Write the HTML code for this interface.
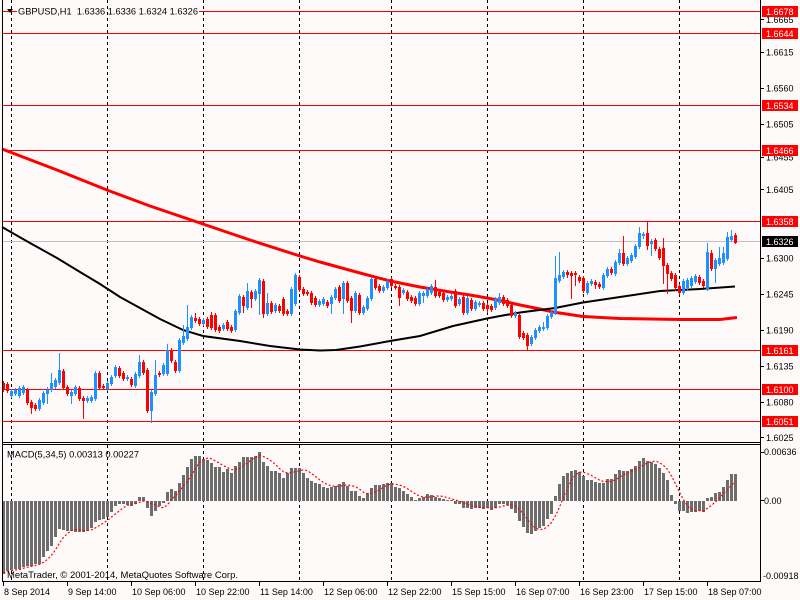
<!DOCTYPE html>
<html><head><meta charset="utf-8"><style>
html,body{margin:0;padding:0;background:#fffafa;overflow:hidden;}
svg{display:block;font-family:"Liberation Sans",sans-serif;}
text{white-space:pre;}
</style></head><body>
<svg id="s" width="800" height="600" xmlns="http://www.w3.org/2000/svg">
<rect width="800" height="600" fill="#fffafa"/>
<g stroke="#000" stroke-width="1" stroke-dasharray="3,3">
<line x1="11.5" y1="0" x2="11.5" y2="442"/><line x1="107.5" y1="0" x2="107.5" y2="442"/><line x1="203.5" y1="0" x2="203.5" y2="442"/><line x1="299.5" y1="0" x2="299.5" y2="442"/><line x1="391.5" y1="0" x2="391.5" y2="442"/><line x1="487.5" y1="0" x2="487.5" y2="442"/><line x1="583.5" y1="0" x2="583.5" y2="442"/><line x1="679.5" y1="0" x2="679.5" y2="442"/>
<line x1="11.5" y1="445" x2="11.5" y2="581"/><line x1="107.5" y1="445" x2="107.5" y2="581"/><line x1="203.5" y1="445" x2="203.5" y2="581"/><line x1="299.5" y1="445" x2="299.5" y2="581"/><line x1="391.5" y1="445" x2="391.5" y2="581"/><line x1="487.5" y1="445" x2="487.5" y2="581"/><line x1="583.5" y1="445" x2="583.5" y2="581"/><line x1="679.5" y1="445" x2="679.5" y2="581"/>
</g>
<g stroke="#ff0000" stroke-width="1">
<line x1="2" y1="11.5" x2="17" y2="11.5"/><line x1="199" y1="11.5" x2="760" y2="11.5"/>
<line x1="2" y1="33.5" x2="760" y2="33.5"/>
<line x1="2" y1="105.5" x2="760" y2="105.5"/>
<line x1="2" y1="150.5" x2="760" y2="150.5"/>
<line x1="2" y1="221.5" x2="760" y2="221.5"/>
<line x1="2" y1="350.5" x2="760" y2="350.5"/>
<line x1="2" y1="389.5" x2="760" y2="389.5"/>
<line x1="2" y1="421.5" x2="760" y2="421.5"/>
</g>
<line x1="2" y1="241.5" x2="760" y2="241.5" stroke="#c0c0c0" stroke-width="1"/>
<polyline fill="none" stroke="#ff0000" stroke-width="3" points="2,149 57,170 107,190 150,206 200,223 250,240 300,256 320,262 360,273 390,281 420,287 450,292 470,295 487,298 500,300.5 520,305 540,309 553,312 583,316.5 620,318.5 680,319.5 720,319.5 737,317.5"/>
<polyline fill="none" stroke="#000" stroke-width="2" points="2,227 30,243 57,258 80,272 100,284 120,297 140,308 160,319 183,330 203,336 240,341 270,346 300,349.5 320,350.5 336,350 360,346.5 390,341 420,336 453,326 487,318.5 500,316 520,312.5 555,308 583,302.5 620,297 660,291 700,289 735,286.5"/>
<g id="candles"></g>
<g id="hist"></g>
<g stroke="#000" stroke-width="1">
<line x1="2.5" y1="0" x2="2.5" y2="582"/>
<line x1="760.5" y1="0" x2="760.5" y2="582"/>
<line x1="2" y1="442.5" x2="761" y2="442.5"/>
<line x1="2" y1="444.5" x2="761" y2="444.5"/>
<line x1="2" y1="581.5" x2="761" y2="581.5"/>
<line x1="760" y1="19.5" x2="764" y2="19.5"/><line x1="760" y1="52.5" x2="764" y2="52.5"/><line x1="760" y1="88.5" x2="764" y2="88.5"/><line x1="760" y1="124.5" x2="764" y2="124.5"/><line x1="760" y1="157.5" x2="764" y2="157.5"/><line x1="760" y1="189.5" x2="764" y2="189.5"/><line x1="760" y1="258.5" x2="764" y2="258.5"/><line x1="760" y1="294.5" x2="764" y2="294.5"/><line x1="760" y1="330.5" x2="764" y2="330.5"/><line x1="760" y1="366.5" x2="764" y2="366.5"/><line x1="760" y1="402.5" x2="764" y2="402.5"/><line x1="760" y1="437.5" x2="764" y2="437.5"/>
<line x1="760" y1="452.5" x2="764" y2="452.5"/><line x1="760" y1="500.5" x2="764" y2="500.5"/>
<line x1="3.5" y1="582" x2="3.5" y2="586"/><line x1="67.5" y1="582" x2="67.5" y2="586"/><line x1="131.5" y1="582" x2="131.5" y2="586"/><line x1="195.5" y1="582" x2="195.5" y2="586"/><line x1="259.5" y1="582" x2="259.5" y2="586"/><line x1="323.5" y1="582" x2="323.5" y2="586"/><line x1="387.5" y1="582" x2="387.5" y2="586"/><line x1="451.5" y1="582" x2="451.5" y2="586"/><line x1="515.5" y1="582" x2="515.5" y2="586"/><line x1="579.5" y1="582" x2="579.5" y2="586"/><line x1="643.5" y1="582" x2="643.5" y2="586"/><line x1="707.5" y1="582" x2="707.5" y2="586"/>
</g>
<g font-size="9" fill="#000">
<text x="766" y="23">1.6665</text>
<text x="766" y="55.5">1.6615</text>
<text x="766" y="91.5">1.6560</text>
<text x="766" y="127.5">1.6505</text>
<text x="766" y="160.5">1.6455</text>
<text x="766" y="193">1.6405</text>
<text x="766" y="261.5">1.6300</text>
<text x="766" y="297.5">1.6245</text>
<text x="766" y="333.5">1.6190</text>
<text x="766" y="369.5">1.6135</text>
<text x="766" y="405.5">1.6080</text>
<text x="766" y="441">1.6025</text>
<text x="764" y="455">0.00636</text>
<text x="764" y="504">0.00</text>
<text x="763" y="579">-0.00918</text>
<text x="4" y="595">8 Sep 2014</text>
<text x="68" y="595">9 Sep 14:00</text>
<text x="132" y="595">10 Sep 06:00</text>
<text x="196" y="595">10 Sep 22:00</text>
<text x="260" y="595">11 Sep 14:00</text>
<text x="324" y="595">12 Sep 06:00</text>
<text x="388" y="595">12 Sep 22:00</text>
<text x="452" y="595">15 Sep 15:00</text>
<text x="516" y="595">16 Sep 07:00</text>
<text x="580" y="595">16 Sep 23:00</text>
<text x="644" y="595">17 Sep 15:00</text>
<text x="708" y="595">18 Sep 07:00</text>
</g>
<g>
<rect x="762" y="6" width="36" height="11" fill="#ff0000"/>
<rect x="762" y="28" width="36" height="11" fill="#ff0000"/>
<rect x="762" y="100" width="36" height="11" fill="#ff0000"/>
<rect x="762" y="145" width="36" height="11" fill="#ff0000"/>
<rect x="762" y="216" width="36" height="11" fill="#ff0000"/>
<rect x="762" y="236" width="36" height="11" fill="#000"/>
<rect x="762" y="345" width="36" height="11" fill="#ff0000"/>
<rect x="762" y="384" width="36" height="11" fill="#ff0000"/>
<rect x="762" y="416" width="36" height="11" fill="#ff0000"/>
</g>
<g font-size="9" fill="#fff">
<text x="766" y="14.8">1.6678</text>
<text x="766" y="36.8">1.6644</text>
<text x="766" y="108.8">1.6534</text>
<text x="766" y="153.8">1.6466</text>
<text x="766" y="224.8">1.6358</text>
<text x="766" y="244.8">1.6326</text>
<text x="766" y="353.8">1.6161</text>
<text x="766" y="392.8">1.6100</text>
<text x="766" y="424.8">1.6051</text>
</g>
<polygon points="7,9 13,9 10,13" fill="#000"/>
<text x="18" y="14.5" font-size="9.5" textLength="180" lengthAdjust="spacingAndGlyphs">GBPUSD,H1  1.6336 1.6336 1.6324 1.6326</text>
<g id="sig"></g>
<text x="7" y="457.5" font-size="9.5" textLength="132" lengthAdjust="spacingAndGlyphs">MACD(5,34,5) 0.00313 0.00227</text>
<text x="7" y="578" font-size="9.5" textLength="231" lengthAdjust="spacingAndGlyphs">MetaTrader, © 2001-2014, MetaQuotes Software Corp.</text>
</svg>
<script>
(function(){
var NS="http://www.w3.org/2000/svg";
function el(t,a,p){var e=document.createElementNS(NS,t);for(var k in a)e.setAttribute(k,a[k]);p.appendChild(e);return e;}
var D="r383,389,381,391 r384,390,382,392 b391,395,389,397 b390,393,388,395 b388,395,386,397 b387,392,385,394 r390,402,388,404 r402,407,400,413 r405,408,403,410 b400,408,398,410 "+
"b393,402,391,404 b390,393,387,403 b383,389,373,391 b380,386,378,388 b370,382,353,384 r371,387,369,389 r387,393,385,395 b392,395,390,403 b387,393,385,395 r388,398,386,400 "+
"r398,400,396,418 b398,400,396,402 b397,400,395,402 b373,398,371,400 r373,387,371,389 r386,387,384,389 b383,388,381,390 b377,383,375,385 b367,375,365,377 r368,375,366,377 "+
"r373,378,371,380 b377,378,375,380 r379,384,377,386 b374,385,372,387 b362,375,355,377 r362,372,360,374 r370,410,368,412 b392,410,390,422 b375,393,360,395 r373,374,371,376 "+
"b365,373,363,375 b350,373,344,375 r350,360,348,362 r362,370,360,372 b340,370,338,372 b336,342,325,344 b327,338,305,340 b317,327,315,329 r318,320,313,322 r319,323,317,325 "+
"b320,323,318,325 r319,326,317,328 r315,327,312,329 r315,329,313,331 r327,330,325,332 b325,328,323,330 r322,328,320,330 r327,330,325,332 b311,329,309,331 b296,312,294,314 "+
"r297,305,295,312 b291,307,283,309 r292,298,290,307 b291,298,289,300 b280,293,278,314 r281,313,279,317 b303,313,293,315 r303,311,301,313 b305,310,303,312 r306,310,304,312 "+
"r299,313,297,315 r311,313,309,315 b289,313,287,315 b275,303,273,305 r277,289,275,291 r289,293,287,295 r292,293,290,295 r293,302,291,304 r298,304,296,306 b301,304,299,306 "+
"b299,303,297,305 r302,305,300,307 b297,303,295,313 b289,297,287,299 r287,300,285,302 b283,298,281,313 r283,300,281,302 r298,310,296,322 b293,310,291,312 r295,312,293,314 "+
"b307,312,305,314 b298,308,296,310 b279,298,277,300 r279,287,277,289 r286,290,284,292 b287,290,285,292 b281,287,279,289 r279,285,277,287 r286,287,284,289 r287,297,285,305 "+
"b290,292,288,294 r292,298,290,300 r297,300,295,302 r298,303,296,305 b293,303,291,305 b293,295,291,302 b289,295,287,297 b286,292,284,294 r287,295,280,297 r292,295,290,297 "+
"r293,299,291,301 b297,299,295,301 b296,298,294,300 r291,305,289,307 b299,303,297,305 r297,312,295,314 b298,312,296,314 r300,308,298,310 b302,308,300,310 b303,304,301,306 "+
"r303,308,301,310 r305,308,303,312 r306,309,304,311 b299,307,297,309 b297,302,293,304 r297,303,295,305 r300,305,298,307 r305,315,303,317 b313,315,311,317 r315,336,313,338 "+
"r333,337,331,339 r335,345,333,349 b337,343,335,345 b330,337,328,339 b327,330,325,332 b327,328,322,330 b316,327,314,329 b312,316,310,318 b278,312,256,314 b275,280,252,282 "+
"b272,276,270,278 r272,274,270,277 r273,275,271,298 r273,274,271,285 r277,280,275,282 r278,290,276,292 b283,292,281,294 b281,283,279,285 r282,284,280,288 r284,286,282,288 "+
"b275,287,273,289 b269,275,267,277 r269,272,267,274 b262,273,260,275 b253,262,249,264 r253,263,236,265 b258,263,256,265 b255,260,253,262 b246,256,244,258 b233,246,227,248 "+
"b234,235,232,238 r233,245,222,249 b241,243,239,255 r240,248,238,250 r249,257,247,259 r248,265,238,283 r265,273,263,293 r273,278,271,280 r275,287,273,290 r286,292,284,294 "+
"b281,292,279,294 b280,287,278,289 b278,285,276,287 b276,281,274,283 r277,282,275,284 r281,285,279,287 b252,288,243,290 r253,268,250,270 b260,268,258,282 b258,263,247,265 "+
"b253,262,247,264 b237,258,232,260 b236,239,230,241 r235,242,233,243";
var gc=document.getElementById("candles");
D.split(" ").forEach(function(t,i){
  var c=t.charAt(0)=="b"?"#1e90ff":"#ff0000";
  var v=t.slice(1).split(",").map(Number);
  var x=2+4*i;
  el("rect",{x:x+1,y:v[2],width:1,height:v[3]-v[2]+1,fill:c},gc);
  el("rect",{x:x,y:v[0],width:3,height:Math.max(1,v[1]-v[0]+1),fill:c},gc);
});
var H=[573,570,569,568,568,566,565,565,563,562.7,
556,550,545,536,528,528.7,530,530,530.7,530.7,
531,530,526.7,520.7,519.3,518.3,516,510.7,505,503.3,
503.3,504,505,502.7,496.7,496.7,507.3,515,510,505,
501.7,491.7,489.3,491,482.7,475,467.3,459.3,456,456,
459.3,460,462.7,466.7,467.3,471.7,469.3,473.3,466,461.7,
456.7,456.7,456.7,456,452,461.7,466,471,471,472.7,
477.7,472.7,467.7,467.7,468.3,472.7,477.7,480.7,483.3,484.3,
486.7,487.7,487.3,486,484,481.7,486,491,491,495.7,
497.7,493.3,488.3,485,485,484,482.7,483.3,486.7,488.3,
491,494,496.7,500,498.3,496.7,494,495,496.7,497.7,
499.3,500,500,503.3,502.7,507.3,506.7,508.3,506.7,507.3,
508.3,507.3,509.3,506.7,503.3,502.7,504.3,508.3,511.7,520,
526,531.7,532.7,530,527.3,525,517.7,512.7,496,484,
476,472.7,470.7,470,471.7,476,480,480,481.7,482.7,
483.3,479.3,479.3,474.3,470,470.7,470.7,469,466,460.7,
458.3,460.7,461.7,464,468.3,472.7,480,495,503.3,510,
510,511.7,511,511,510,510.7,498.3,496.7,493.3,491.7,
487.3,480,474,474];
var gh=document.getElementById("hist");
var Z=500.5;
H.forEach(function(v,i){
  var x=2+4*i,y,h;
  if(v<Z){y=Math.round(v);h=501-y;}else{y=501;h=Math.max(1,Math.round(v)-500);}
  el("rect",{x:x,y:y,width:3,height:h,fill:"#6d6d6d"},gh);
});
var pts=[];
for(var i=0;i<H.length;i++){
  var s=0,n=0;
  for(var j=Math.max(0,i-4);j<=i;j++){s+=H[j];n++;}
  pts.push((3.5+4*i)+","+(s/n).toFixed(1));
}
el("polyline",{points:pts.join(" "),fill:"none",stroke:"#ff0000","stroke-width":"1.2","stroke-dasharray":"2,2"},document.getElementById("sig"));
})();
</script>
</body></html>
